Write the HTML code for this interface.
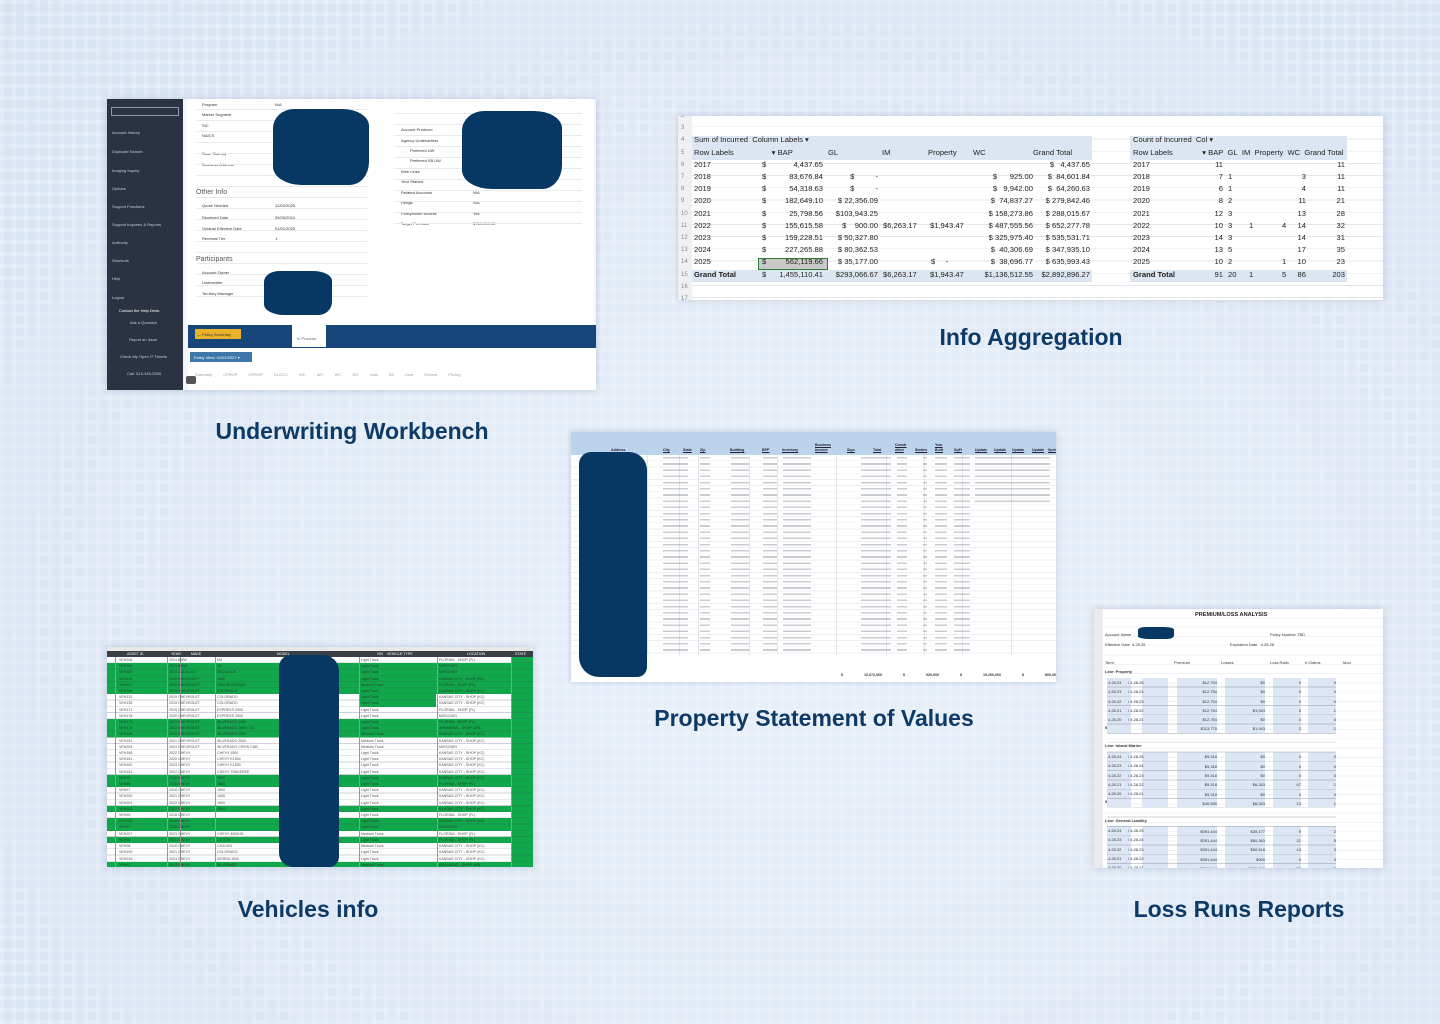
<!DOCTYPE html>
<html><head><meta charset="utf-8"><style>
*{margin:0;padding:0;box-sizing:border-box}
body{width:1440px;height:1024px;overflow:hidden;position:relative;font-family:"Liberation Sans",sans-serif;
background:
repeating-linear-gradient(90deg,rgba(255,255,255,.18) 0 4px,transparent 4px 12px),
repeating-linear-gradient(0deg,rgba(255,255,255,.18) 0 4px,transparent 4px 12px),
radial-gradient(ellipse at 55% 60%,#e9f0f9 0%,#dfe8f5 55%,#d7e3f3 100%);}
.p{position:absolute;overflow:hidden;background:#fff;box-shadow:0 0 6px rgba(60,90,140,.25)}
.t{position:absolute;color:#0d3a66;font-weight:bold;font-size:23px;white-space:nowrap;transform:translateX(-50%)}
.blob{position:absolute;background:#063863;border-radius:22% 28% 20% 30%/25% 22% 30% 24%}
.a{position:absolute;white-space:nowrap}
.h{position:absolute;top:16px;font-size:3.6px;font-weight:bold;color:#223;text-decoration:underline;white-space:nowrap}
</style></head><body>

<!-- Underwriting Workbench -->
<div class="p" style="left:107px;top:99px;width:489px;height:291px;background:#f3f5f8">
 <div style="position:absolute;left:0;top:0;width:76px;height:291px;background:#2b3342;color:#c7ccd6;font-size:4px">
  <div style="position:absolute;left:4px;top:8px;width:68px;height:9px;border:1px solid #8d97a8"></div>
  <div class="a" style="left:5px;top:31px">Account History</div>
  <div class="a" style="left:5px;top:50px">Duplicate Search</div>
  <div class="a" style="left:5px;top:69px">Imaging Inquiry</div>
  <div class="a" style="left:5px;top:87px">Options</div>
  <div class="a" style="left:5px;top:105px">Support Functions</div>
  <div class="a" style="left:5px;top:123px">Support Inquiries &amp; Reports</div>
  <div class="a" style="left:5px;top:141px">Authority</div>
  <div class="a" style="left:5px;top:159px">Shortcuts</div>
  <div class="a" style="left:5px;top:177px">Help</div>
  <div class="a" style="left:5px;top:196px">Logout</div>
  <div class="a" style="left:12px;top:209px;color:#fff">Contact the Help Desk:</div>
  <div class="a" style="left:23px;top:221px">Ask a Question</div>
  <div class="a" style="left:22px;top:238px">Report an Issue</div>
  <div class="a" style="left:13px;top:255px">Check My Open IT Tickets</div>
  <div class="a" style="left:20px;top:272px">Call: 515-345-2555</div>
 </div>
 <div style="position:absolute;left:80px;top:0;width:407px;height:226px;background:#fff;border-radius:3px;font-size:4px;color:#333">
  <div class="a" style="left:15px;top:3px">Program</div><div class="a" style="left:88px;top:3px">N/A</div>
  <div class="a" style="left:15px;top:13px">Market Segment</div>
  <div class="a" style="left:15px;top:24px">SIC</div>
  <div class="a" style="left:15px;top:34px">NAICS</div>
  <div class="a" style="left:15px;top:52px">Base State(s)</div>
  <div class="a" style="left:15px;top:63px">Business Address</div>
  <div class="a" style="left:9px;top:90px;font-size:7px;color:#555">Other Info</div>
  <div class="a" style="left:15px;top:104px">Quote Needed</div><div class="a" style="left:88px;top:104px">12/02/2025</div>
  <div class="a" style="left:15px;top:116px">Received Date</div><div class="a" style="left:88px;top:116px">09/25/2024</div>
  <div class="a" style="left:15px;top:127px">Original Effective Date</div><div class="a" style="left:88px;top:127px">01/01/2025</div>
  <div class="a" style="left:15px;top:137px">Renewal Tier</div><div class="a" style="left:88px;top:137px">1</div>
  <div class="a" style="left:9px;top:157px;font-size:7px;color:#555">Participants</div>
  <div class="a" style="left:15px;top:171px">Account Owner</div>
  <div class="a" style="left:15px;top:181px">Underwriter</div>
  <div class="a" style="left:15px;top:192px">Territory Manager</div>
  <div style="position:absolute;left:10px;top:0;width:170px;height:200px;background:repeating-linear-gradient(180deg,transparent 0 10px,#e6e9ed 10px 11px)"></div>
  <div class="a" style="left:214px;top:28px">Account Producer</div>
  <div class="a" style="left:214px;top:39px">Agency Underwriters</div>
  <div class="a" style="left:223px;top:49px">Preferred UW</div>
  <div class="a" style="left:223px;top:59px">Preferred SB UW</div>
  <div class="a" style="left:214px;top:70px">Web Links</div>
  <div class="a" style="left:214px;top:80px">Year Started</div>
  <div class="a" style="left:214px;top:91px">Related Accounts</div><div class="a" style="left:286px;top:91px">N/A</div>
  <div class="a" style="left:214px;top:101px">Filings</div><div class="a" style="left:286px;top:101px">N/A</div>
  <div class="a" style="left:214px;top:112px">Policyholder Access</div><div class="a" style="left:286px;top:112px">Yes</div>
  <div class="a" style="left:214px;top:122px">Target Premium</div><div class="a" style="left:286px;top:122px">$750,000.00</div>
  <div style="position:absolute;left:208px;top:4px;width:187px;height:128px;background:repeating-linear-gradient(180deg,transparent 0 10px,#e6e9ed 10px 11px)"></div>
 </div>
 <div class="blob" style="left:166px;top:10px;width:96px;height:76px"></div>
 <div class="blob" style="left:355px;top:12px;width:100px;height:78px"></div>
 <div class="blob" style="left:157px;top:172px;width:68px;height:44px"></div>
 <div style="position:absolute;left:81px;top:226px;width:408px;height:23px;background:#17477a"></div>
 <div style="position:absolute;left:88px;top:230px;width:46px;height:10px;background:#e9b22b;font-size:4px;color:#333;padding:3px 2px">— Policy Summary</div>
 <div style="position:absolute;left:185px;top:226px;width:34px;height:22px;background:#fff;font-size:4px;color:#667;padding:11px 5px">In Process</div>
 <div style="position:absolute;left:81px;top:249px;width:408px;height:42px;background:#fff"></div>
 <div style="position:absolute;left:83px;top:253px;width:62px;height:10px;background:#3d76a8;font-size:4px;color:#fff;padding:3px 4px">Policy View: 01/01/2027 ▾</div>
 <div class="a" style="left:88px;top:273px;font-size:4px;color:#99a;word-spacing:10px">Summary CPROP CPROP GLOCC WC WC WC WC Auto IM Umb Drivers Pricing</div>
 <div style="position:absolute;left:79px;top:277px;width:10px;height:8px;background:#555;border-radius:2px"></div>
</div>
<div class="t" style="left:352px;top:418px">Underwriting Workbench</div>

<!-- Info Aggregation -->
<div class="p" style="left:678px;top:116px;width:705px;height:184px;font-size:7.6px;color:#222">
 <div style="position:absolute;left:0;top:0;width:14px;height:184px;background:#eef0f3"></div>
 <div style="position:absolute;left:14px;top:20px;width:400px;height:24px;background:#dce6f2"></div>
 <div style="position:absolute;left:14px;top:154px;width:400px;height:12px;background:#dce6f2"></div>
 <div style="position:absolute;left:452px;top:20px;width:217px;height:24px;background:#dce6f2"></div>
 <div style="position:absolute;left:452px;top:154px;width:217px;height:12px;background:#dce6f2"></div>
 <div style="position:absolute;left:14px;top:0;width:691px;height:184px;background:repeating-linear-gradient(180deg,transparent 0 11.4px,#e3e6ea 11.4px 12.2px);background-position:0 -1px"></div>
 <div style="position:absolute;left:80px;top:142px;width:70px;height:12px;background:#c9c9c9;border:1px solid #2e7d32"></div>
 <div style="position:absolute;left:0;top:-6px;line-height:12.2px;width:705px">
  <div style="color:#888;position:absolute;left:3px;font-size:6px;line-height:12.2px">2<br>3<br>4<br>5<br>6<br>7<br>8<br>9<br>10<br>11<br>12<br>13<br>14<br>15<br>16<br>17</div>
  <div class="a" style="left:16px;top:24.4px;line-height:12.2px">Sum of Incurred&nbsp; Column Labels ▾<br>Row Labels &nbsp;&nbsp;&nbsp;&nbsp;&nbsp;&nbsp;&nbsp;&nbsp;&nbsp;&nbsp;&nbsp;&nbsp;&nbsp;&nbsp;&nbsp;&nbsp;&nbsp;▾ BAP</div>
  <div class="a" style="left:150px;top:36.6px">GL</div><div class="a" style="left:204px;top:36.6px">IM</div><div class="a" style="left:250px;top:36.6px">Property</div><div class="a" style="left:295px;top:36.6px">WC</div><div class="a" style="left:355px;top:36.6px">Grand Total</div>
  <div class="a" style="left:16px;top:48.8px;line-height:12.2px">2017<br>2018<br>2019<br>2020<br>2021<br>2022<br>2023<br>2024<br>2025<br><b>Grand Total</b></div>
  <div class="a" style="left:84px;top:48.8px;line-height:12.2px">$<br>$<br>$<br>$<br>$<br>$<br>$<br>$<br>$<br>$</div>
  <div class="a" style="left:90px;top:48.8px;line-height:12.2px;text-align:right;width:55px">4,437.65<br>83,676.84<br>54,318.63<br>182,649.10<br>25,798.56<br>155,615.58<br>159,228.51<br>227,265.88<br>562,119.66<br>1,455,110.41</div>
  <div class="a" style="left:150px;top:48.8px;line-height:12.2px;text-align:right;width:50px">&nbsp;<br>$ &nbsp;&nbsp;&nbsp;&nbsp;&nbsp;&nbsp;&nbsp;&nbsp;&nbsp;-<br>$ &nbsp;&nbsp;&nbsp;&nbsp;&nbsp;&nbsp;&nbsp;&nbsp;&nbsp;-<br>$ 22,356.09<br>$103,943.25<br>$ &nbsp;&nbsp;&nbsp;900.00<br>$ 50,327.80<br>$ 80,362.53<br>$ 35,177.00<br>$293,066.67</div>
  <div class="a" style="left:205px;top:110px">$6,263.17</div><div class="a" style="left:252px;top:110px">$1,943.47</div>
  <div class="a" style="left:205px;top:158.6px">$6,263.17</div><div class="a" style="left:252px;top:158.6px">$1,943.47</div>
  <div class="a" style="left:253px;top:146.4px">$ &nbsp;&nbsp;&nbsp;&nbsp;-</div>
  <div class="a" style="left:297px;top:48.8px;line-height:12.2px;width:58px;text-align:right">&nbsp;<br>$ &nbsp;&nbsp;&nbsp;&nbsp;&nbsp;925.00<br>$ &nbsp;&nbsp;9,942.00<br>$ &nbsp;74,837.27<br>$ 158,273.86<br>$ 487,555.56<br>$ 325,975.40<br>$ &nbsp;40,306.69<br>$ &nbsp;38,696.77<br>$1,136,512.55</div>
  <div class="a" style="left:356px;top:48.8px;line-height:12.2px;width:56px;text-align:right">$ &nbsp;&nbsp;4,437.65<br>$ &nbsp;84,601.84<br>$ &nbsp;64,260.63<br>$ 279,842.46<br>$ 288,015.67<br>$ 652,277.78<br>$ 535,531.71<br>$ 347,935.10<br>$ 635,993.43<br>$2,892,896.27</div>
  <div class="a" style="left:455px;top:24.4px;line-height:12.2px">Count of Incurred&nbsp; Col ▾<br>Row Labels &nbsp;&nbsp;&nbsp;&nbsp;&nbsp;&nbsp;&nbsp;&nbsp;&nbsp;&nbsp;&nbsp;&nbsp;&nbsp;▾ BAP&nbsp; GL&nbsp; IM&nbsp; Property&nbsp; WC&nbsp; Grand Total</div>
  <div class="a" style="left:455px;top:48.8px;line-height:12.2px">2017<br>2018<br>2019<br>2020<br>2021<br>2022<br>2023<br>2024<br>2025<br><b>Grand Total</b></div>
  <div class="a" style="left:525px;top:48.8px;line-height:12.2px;width:20px;text-align:right">11<br>7<br>6<br>8<br>12<br>10<br>14<br>13<br>10<br>91</div>
  <div class="a" style="left:550px;top:48.8px;line-height:12.2px">&nbsp;<br>1<br>1<br>2<br>3<br>3<br>3<br>5<br>2<br>20</div>
  <div class="a" style="left:571px;top:110px">1</div><div class="a" style="left:571px;top:158.6px">1</div>
  <div class="a" style="left:604px;top:110px">4</div><div class="a" style="left:604px;top:146.4px">1</div><div class="a" style="left:604px;top:158.6px">5</div>
  <div class="a" style="left:612px;top:48.8px;line-height:12.2px;width:16px;text-align:right">&nbsp;<br>3<br>4<br>11<br>13<br>14<br>14<br>17<br>10<br>86</div>
  <div class="a" style="left:645px;top:48.8px;line-height:12.2px;width:22px;text-align:right">11<br>11<br>11<br>21<br>28<br>32<br>31<br>35<br>23<br>203</div>
 </div>
</div>
<div class="t" style="left:1031px;top:324px">Info Aggregation</div>

<!-- Property SOV -->
<div class="p" style="left:571px;top:432px;width:485px;height:250px">
 <div style="position:absolute;left:0;top:0;width:485px;height:23px;background:#bcd3ee"></div>
 <div class="h" style="left:40px">Address</div><div class="h" style="left:92px">City</div><div class="h" style="left:112px">State</div><div class="h" style="left:129px">Zip</div>
 <div class="h" style="left:159px">Building</div><div class="h" style="left:191px">BPP</div><div class="h" style="left:211px">Inventory</div><div class="h" style="left:244px">Income</div>
 <div class="h" style="left:276px">Sign</div><div class="h" style="left:302px">Total</div><div class="h" style="left:324px">ution</div><div class="h" style="left:344px">Stories</div>
 <div class="h" style="left:364px">Built</div><div class="h" style="left:383px">SqFt</div><div class="h" style="left:404px">Update</div><div class="h" style="left:423px">Update</div><div class="h" style="left:441px">Update</div><div class="h" style="left:461px">Update</div><div class="h" style="left:477px">Sprinkler</div>
 <div class="h" style="left:244px;top:11px">Business</div><div class="h" style="left:324px;top:11px">Constr</div><div class="h" style="left:364px;top:11px">Year</div>
 <div style="position:absolute;left:0;top:23px;width:485px;height:200px;background:repeating-linear-gradient(180deg,transparent 0 5.4px,#eceff3 5.4px 6.2px)"></div>
 <div style="position:absolute;left:0;top:23px;width:485px;height:200px;
 background:linear-gradient(90deg,transparent 76px,#e1e4e9 76px 77px,transparent 77px 108px,#e1e4e9 108px 109px,transparent 109px 127px,#e1e4e9 127px 128px,transparent 128px 178px,#e1e4e9 178px 179px,transparent 179px 206px,#e1e4e9 206px 207px,transparent 207px 265px,#e1e4e9 265px 266px,transparent 266px 315px,#e1e4e9 315px 316px,transparent 316px 353px,#e1e4e9 353px 354px,transparent 354px 391px,#e1e4e9 391px 392px,transparent 392px 440px,#e1e4e9 440px 441px,transparent 441px)"></div>
 <div style="position:absolute;left:0;top:25px;width:485px;height:196px;opacity:.45;
 background:
 repeating-linear-gradient(180deg,#8a9099 0 1.6px,transparent 1.6px 6.2px) 92px 0/24px 100% no-repeat,
 repeating-linear-gradient(180deg,#8a9099 0 1.6px,transparent 1.6px 6.2px) 112px 0/5px 100% no-repeat,
 repeating-linear-gradient(180deg,#8a9099 0 1.6px,transparent 1.6px 6.2px) 129px 0/10px 100% no-repeat,
 repeating-linear-gradient(180deg,#8a9099 0 1.6px,transparent 1.6px 6.2px) 160px 0/18px 100% no-repeat,
 repeating-linear-gradient(180deg,#8a9099 0 1.6px,transparent 1.6px 6.2px) 192px 0/14px 100% no-repeat,
 repeating-linear-gradient(180deg,#8a9099 0 1.6px,transparent 1.6px 6.2px) 212px 0/28px 100% no-repeat,
 repeating-linear-gradient(180deg,#8a9099 0 1.6px,transparent 1.6px 6.2px) 290px 0/30px 100% no-repeat,
 repeating-linear-gradient(180deg,#8a9099 0 1.6px,transparent 1.6px 6.2px) 326px 0/10px 100% no-repeat,
 repeating-linear-gradient(180deg,#8a9099 0 1.6px,transparent 1.6px 6.2px) 352px 0/4px 100% no-repeat,
 repeating-linear-gradient(180deg,#8a9099 0 1.6px,transparent 1.6px 6.2px) 364px 0/12px 100% no-repeat,
 repeating-linear-gradient(180deg,#8a9099 0 1.6px,transparent 1.6px 6.2px) 383px 0/16px 100% no-repeat,
 repeating-linear-gradient(180deg,#8a9099 0 1.6px,transparent 1.6px 6.2px) 404px 0/75px 25% no-repeat"></div>
 <div class="a" style="left:270px;top:241px;font-size:3.6px;font-weight:bold;color:#333;word-spacing:20px">$ 10,672,000 $ 920,000 $ 19,200,000 $ 800,000 $ 37,000 $ 37,000,000</div>
 <div class="blob" style="left:8px;top:20px;width:68px;height:225px;border-radius:12px 18px 10px 20px"></div>
</div>
<div class="t" style="left:814px;top:705px">Property Statement of Values</div>

<!-- Vehicles -->
<div class="p" style="left:107px;top:647px;width:426px;height:220px;font-size:3.6px;color:#222">
 <div style="position:absolute;left:0;top:0;width:426px;height:4px;background:#e8e8e8"></div>
 <div style="position:absolute;left:0;top:4px;width:426px;height:6px;background:#3a3f45;color:#fff;line-height:6px"></div>
 <div class="a" style="left:20px;top:4px;color:#fff;line-height:6px">ASSET ID</div><div class="a" style="left:64px;top:4px;color:#fff;line-height:6px">YEAR</div><div class="a" style="left:84px;top:4px;color:#fff;line-height:6px">MAKE</div><div class="a" style="left:170px;top:4px;color:#fff;line-height:6px">MODEL</div><div class="a" style="left:270px;top:4px;color:#fff;line-height:6px">VIN</div><div class="a" style="left:280px;top:4px;color:#fff;line-height:6px">VEHICLE TYPE</div><div class="a" style="left:360px;top:4px;color:#fff;line-height:6px">LOCATION</div><div class="a" style="left:408px;top:4px;color:#fff;line-height:6px">STATE</div>
 <div style="position:absolute;left:0;top:10px;width:426px;height:210px;background:
 linear-gradient(#fff 0 6.2px,#11a84b 6.2px 37px,#fff 37px 62px,#11a84b 62px 80.6px,#fff 80.6px 118px,#11a84b 118px 130px,#fff 130px 149px,#11a84b 149px 155px,#fff 155px 161px,#11a84b 161px 174px,#fff 174px 180px,#11a84b 180px 186px,#fff 186px 205px,#11a84b 205px 210px)"></div>
 <div style="position:absolute;left:252px;top:10px;width:77px;height:210px;background:linear-gradient(#fff 0 6.2px,#11a84b 6.2px 50px,#fff 50px 62px,#11a84b 62px 80.6px,#fff 80.6px 118px,#11a84b 118px 130px,#fff 130px 149px,#11a84b 149px 155px,#fff 155px 161px,#11a84b 161px 174px,#fff 174px 180px,#11a84b 180px 186px,#fff 186px 205px,#11a84b 205px 210px)"></div>
 <div style="position:absolute;left:405px;top:10px;width:21px;height:210px;background:#11a84b"></div>
 <div style="position:absolute;left:0;top:10px;width:426px;height:210px;background:repeating-linear-gradient(180deg,transparent 0 5.5px,rgba(60,70,80,.25) 5.5px 6.2px),linear-gradient(90deg,transparent 8px,#999 8px 9px,transparent 9px 60px,#999 60px 61px,transparent 61px 73px,#999 73px 74px,transparent 74px 108px,#999 108px 109px,transparent 109px 252px,#999 252px 253px,transparent 253px 330px,#999 330px 331px,transparent 331px 404px,#999 404px 405px,transparent 405px)"></div>
 <div style="position:absolute;left:12px;top:10px;line-height:6.2px;opacity:.8">VEH208<br>VEH168<br>VEH209<br>VEH126<br>VEH167<br>VEH148<br>VEH132<br>VEH135<br>VEH171<br>VEH178<br>VEH173<br>VEH174<br>VEH168<br>VEH151<br>VEH204<br>VEH188<br>VEH161<br>VEH162<br>VEH151<br>VEH79<br>VEH80<br>VEH97<br>VEH200<br>VEH201<br>VEH202<br>VEH99<br>VEH100<br>VEH67<br>VEH207<br>VEH95<br>VEH98<br>VEH199<br>VEH216<br>VEH93</div>
 <div style="position:absolute;left:62px;top:10px;line-height:6.2px;opacity:.8">2024 BMW<br>2021 BMW<br>2019 CADILLAC<br>2019 CHEVROLET<br>2020 CHEVROLET<br>2020 CHEVROLET<br>2019 CHEVROLET<br>2019 CHEVROLET<br>2019 CHEVROLET<br>2020 CHEVROLET<br>2020 CHEVROLET<br>2022 CHEVROLET<br>2022 CHEVROLET<br>2021 CHEVROLET<br>2024 CHEVROLET<br>2022 CHEVY<br>2020 CHEVY<br>2023 CHEVY<br>2022 CHEVY<br>2016 CHEVY<br>2016 CHEVY<br>2015 CHEVY<br>2021 CHEVY<br>2022 CHEVY<br>2022 CHEVY<br>2015 CHEVY<br>2016 CHEVY<br>2016 CHEVY<br>2023 CHEVY<br>2021 CHEVY<br>2016 CHEVY<br>2021 CHEVY<br>2024 CHEVY<br>2013 CHEVY</div>
 <div style="position:absolute;left:110px;top:10px;line-height:6.2px;opacity:.8">M4<br>X5<br>ESCALADE<br>1500<br>1500 SILVERADO<br>COLORADO<br>COLORADO<br>COLORADO<br>EXPRESS 2500<br>EXPRESS 2500<br>SILVERADO 1500<br>SILVERADO 1500 LTD<br>SILVERADO 2500<br>SILVERADO 2500<br>SILVERADO CREW CAB<br>CHEVY 1500<br>CHEVY K1500<br>CHEVY K1500<br>CHEVY TRAVERSE<br>1500<br>1500<br>1500<br>1500<br>1500<br>1500<br><br><br><br>CHEVY 4500HD<br>1/2 TON<br>CK31403<br>COLORADO<br>SIERRA 1500<br>SILVERADO</div>
 <div style="position:absolute;left:254px;top:10px;line-height:6.2px;opacity:.8">Light Truck<br>Light Truck<br>Light Truck<br>Light Truck<br>Medium Truck<br>Light Truck<br>Light Truck<br>Light Truck<br>Light Truck<br>Light Truck<br>Light Truck<br>Light Truck<br>Medium Truck<br>Medium Truck<br>Medium Truck<br>Light Truck<br>Light Truck<br>Light Truck<br>Light Truck<br>Light Truck<br>Light Truck<br>Light Truck<br>Light Truck<br>Light Truck<br>Light Truck<br>Light Truck<br>Light Truck<br>Light Truck<br>Medium Truck<br>Light Truck<br>Medium Truck<br>Light Truck<br>Light Truck<br>Medium Truck</div>
 <div style="position:absolute;left:332px;top:10px;line-height:6.2px;opacity:.8">FLORIDA - SHOP (FL)<br>MISSOURI<br>MISSOURI<br>KANSAS CITY - SHOP (KC)<br>FLORIDA - SHOP (FL)<br>KANSAS CITY - SHOP (KC)<br>KANSAS CITY - SHOP (KC)<br>KANSAS CITY - SHOP (KC)<br>FLORIDA - SHOP (FL)<br>MISSOURI<br>FLORIDA - SHOP (FL)<br>ARKANSAS - SHOP (AR)<br>KANSAS CITY - SHOP (KC)<br>KANSAS CITY - SHOP (KC)<br>MISSOURI<br>KANSAS CITY - SHOP (KC)<br>KANSAS CITY - SHOP (KC)<br>KANSAS CITY - SHOP (KC)<br>KANSAS CITY - SHOP (KC)<br>KANSAS CITY - SHOP (KC)<br>FLORIDA - SHOP (FL)<br>KANSAS CITY - SHOP (KC)<br>KANSAS CITY - SHOP (KC)<br>KANSAS CITY - SHOP (KC)<br>KANSAS CITY - SHOP (KC)<br>FLORIDA - SHOP (FL)<br>KANSAS CITY - SHOP (KC)<br>MISSOURI<br>FLORIDA - SHOP (FL)<br>FLORIDA - SHOP (FL)<br>KANSAS CITY - SHOP (KC)<br>KANSAS CITY - SHOP (KC)<br>KANSAS CITY - SHOP (KC)<br>ARKANSAS - SHOP (AR)</div>
 <div class="blob" style="left:172px;top:8px;width:60px;height:212px;border-radius:12px 16px 10px 14px"></div>
</div>
<div class="t" style="left:308px;top:896px">Vehicles info</div>

<!-- Loss Runs -->
<div class="p" style="left:1094px;top:609px;width:289px;height:259px;font-size:4px;color:#333">
 <div style="position:absolute;left:0;top:0;width:9px;height:259px;background:#e9ebee"></div>
 <div style="position:absolute;left:9px;top:0;width:280px;height:259px;background:repeating-linear-gradient(180deg,transparent 0 8.4px,#f0f2f4 8.4px 9.3px)"></div>
 <div class="a" style="left:101px;top:3px;font-weight:bold;font-size:5.6px;color:#222">PREMIUM/LOSS ANALYSIS</div>
 <div class="a" style="left:11px;top:23px">Account Name</div><div class="a" style="left:176px;top:23px">Policy Number TBD</div>
 <div class="a" style="left:11px;top:33px">Effective Date &nbsp;4.28.25</div><div class="a" style="left:136px;top:33px">Expiration Date &nbsp;&nbsp;4.28.26</div>
 <div class="a" style="left:11px;top:51px">Term</div><div class="a" style="left:80px;top:51px">Premium</div><div class="a" style="left:127px;top:51px">Losses</div><div class="a" style="left:176px;top:51px">Loss Ratio</div><div class="a" style="left:211px;top:51px"># Claims</div><div class="a" style="left:249px;top:51px">Mod</div>
 <div class="a" style="left:11px;top:60px;font-weight:bold">Line: Property</div>
 <div class="a" style="left:11px;top:116px;font-weight:bold">5 Year Total</div>
 <div class="a" style="left:11px;top:134px;font-weight:bold">Line: Inland Marine</div>
 <div class="a" style="left:11px;top:190px;font-weight:bold">5 Year Total</div>
 <div class="a" style="left:11px;top:209px;font-weight:bold">Line: General Liability</div>
 <div style="position:absolute;left:0;top:69px;width:289px;height:55px;background:
 linear-gradient(90deg,transparent 13px,#dce6f4 13px 37px,transparent 37px 48px,#dce6f4 48px 74px,transparent 74px 83px,#dce6f4 83px 123px,transparent 123px 131px,#dce6f4 131px 171px,transparent 171px 179px,#dce6f4 179px 207px,transparent 207px 214px,#dce6f4 214px 242px,transparent 242px)"></div>
 <div style="position:absolute;left:0;top:143px;width:289px;height:55px;background:
 linear-gradient(90deg,transparent 13px,#dce6f4 13px 37px,transparent 37px 48px,#dce6f4 48px 74px,transparent 74px 83px,#dce6f4 83px 123px,transparent 123px 131px,#dce6f4 131px 171px,transparent 171px 179px,#dce6f4 179px 207px,transparent 207px 214px,#dce6f4 214px 242px,transparent 242px)"></div>
 <div style="position:absolute;left:0;top:217px;width:289px;height:42px;background:
 linear-gradient(90deg,transparent 13px,#dce6f4 13px 37px,transparent 37px 48px,#dce6f4 48px 74px,transparent 74px 83px,#dce6f4 83px 123px,transparent 123px 131px,#dce6f4 131px 171px,transparent 171px 179px,#dce6f4 179px 207px,transparent 207px 214px,#dce6f4 214px 242px,transparent 242px)"></div>
 <div style="position:absolute;left:13px;top:69px;width:229px;height:190px;background:repeating-linear-gradient(180deg,transparent 0 8.5px,rgba(90,100,120,.3) 8.5px 9.3px)"></div>
 <div style="position:absolute;left:14px;top:69px;line-height:9.3px">4.28.24 &nbsp;&nbsp;&nbsp;&nbsp;&nbsp;/ 4.28.25<br>4.28.23 &nbsp;&nbsp;&nbsp;&nbsp;&nbsp;/ 4.28.24<br>4.28.22 &nbsp;&nbsp;&nbsp;&nbsp;&nbsp;/ 4.28.23<br>4.28.21 &nbsp;&nbsp;&nbsp;&nbsp;&nbsp;/ 4.28.22<br>4.28.20 &nbsp;&nbsp;&nbsp;&nbsp;&nbsp;/ 4.28.21</div>
 <div style="position:absolute;left:14px;top:143px;line-height:9.3px">4.28.24 &nbsp;&nbsp;&nbsp;&nbsp;&nbsp;/ 4.28.25<br>4.28.23 &nbsp;&nbsp;&nbsp;&nbsp;&nbsp;/ 4.28.24<br>4.28.22 &nbsp;&nbsp;&nbsp;&nbsp;&nbsp;/ 4.28.23<br>4.28.21 &nbsp;&nbsp;&nbsp;&nbsp;&nbsp;/ 4.28.22<br>4.28.20 &nbsp;&nbsp;&nbsp;&nbsp;&nbsp;/ 4.28.21</div>
 <div style="position:absolute;left:14px;top:217px;line-height:9.3px">4.28.24 &nbsp;&nbsp;&nbsp;&nbsp;&nbsp;/ 4.28.25<br>4.28.23 &nbsp;&nbsp;&nbsp;&nbsp;&nbsp;/ 4.28.24<br>4.28.22 &nbsp;&nbsp;&nbsp;&nbsp;&nbsp;/ 4.28.23<br>4.28.21 &nbsp;&nbsp;&nbsp;&nbsp;&nbsp;/ 4.28.22<br>4.28.20 &nbsp;&nbsp;&nbsp;&nbsp;&nbsp;/ 4.28.21</div>
 <div style="position:absolute;left:83px;top:69px;width:40px;text-align:right;line-height:9.3px">$12,754<br>$12,754<br>$12,754<br>$12,754<br>$12,754<br>$113,770<br><br><br>$9,318<br>$9,318<br>$9,318<br>$9,318<br>$9,318<br>$46,590<br><br><br>$391,444<br>$391,444<br>$391,444<br>$391,444<br>$391,444</div>
 <div style="position:absolute;left:131px;top:69px;width:40px;text-align:right;line-height:9.3px">$0<br>$0<br>$0<br>$1,943<br>$0<br>$1,943<br><br><br>$0<br>$0<br>$0<br>$6,263<br>$0<br>$6,263<br><br><br>$35,177<br>$80,363<br>$50,518<br>$900<br>$105,943</div>
 <div style="position:absolute;left:179px;top:69px;width:28px;text-align:right;line-height:9.3px">0<br>0<br>0<br>5<br>0<br>2<br><br><br>0<br>0<br>0<br>67<br>0<br>13<br><br><br>9<br>21<br>13<br>0<br>27</div>
 <div style="position:absolute;left:214px;top:69px;width:28px;text-align:right;line-height:9.3px">0<br>0<br>0<br>1<br>0<br>1<br><br><br>0<br>0<br>0<br>1<br>0<br>1<br><br><br>2<br>5<br>3<br>3<br>3</div>
 <div class="blob" style="left:44px;top:18px;width:36px;height:12px"></div>
</div>
<div class="t" style="left:1239px;top:896px">Loss Runs Reports</div>

</body></html>
